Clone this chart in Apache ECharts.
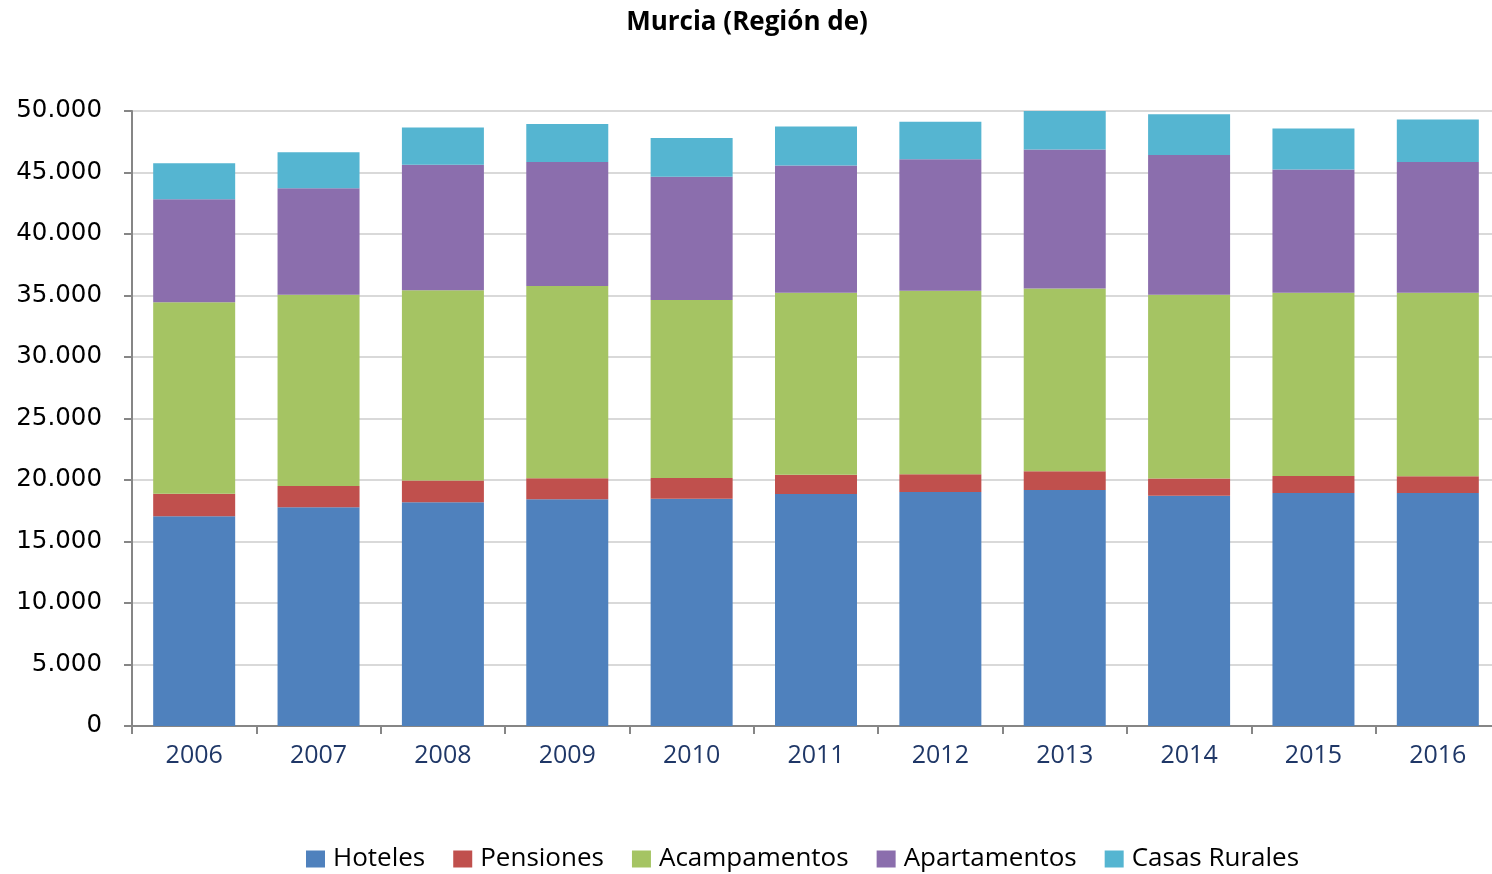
<!DOCTYPE html>
<html>
<head>
<meta charset="utf-8">
<script src="https://cdn.jsdelivr.net/npm/echarts@6/dist/echarts.min.js"></script>
<style>
html,body{margin:0;padding:0;background:#fff;overflow:hidden;}
#chart{width:1502px;height:874px;}
</style>
</head>
<body>
<div id="chart"></div>
<script>
const years = ['2006','2007','2008','2009','2010','2011','2012','2013','2014','2015','2016'];
const hoteles      = [17050, 17780, 18190, 18430, 18480, 18860, 19020, 19190, 18720, 18940, 18940];
const pensiones    = [ 1840,  1730,  1760,  1710,  1680,  1570,  1440,  1520,  1410,  1380,  1360];
const acampamentos = [15560, 15550, 15480, 15630, 14470, 14800, 14930, 14850, 14930, 14900, 14930];
const apartamentos = [ 8370,  8650, 10190, 10080, 10030, 10330, 10680, 11300, 11360, 10030, 10630];
const casasRurales = [ 2930,  2930,  3030,  3090,  3140,  3170,  3060,  3170,  3310,  3330,  3440];
const seriesNames = ['Hoteles','Pensiones','Acampamentos','Apartamentos','Casas Rurales'];
const seriesData = [hoteles, pensiones, acampamentos, apartamentos, casasRurales];
const colors = ['#4F81BD','#C0504D','#A5C463','#8B6EAD','#55B5D1'];

const chart = echarts.init(document.getElementById('chart'));
chart.setOption({
  animation: false,
  color: colors,
  title: {
    text: 'Murcia (Región de)',
    left: 742,
    textAlign: 'center',
    top: 5,
    textStyle: {fontFamily: 'Open Sans', fontWeight: 'bold', fontSize: 26, color: '#000'}
  },
  legend: {
    bottom: -3,
    left: 301,
    itemWidth: 19,
    itemHeight: 17,
    itemGap: 28,
    icon: 'rect',
    textStyle: {fontFamily: 'Open Sans', fontSize: 26, color: '#000', padding: [0, 0, 0, 3]},
    data: seriesNames
  },
  grid: {left: 132, top: 111, right: 2, height: 615, containLabel: false},
  xAxis: {
    type: 'category',
    data: years,
    axisLine: {lineStyle: {color: '#868686', width: 2}},
    axisTick: {show: true, length: 8, lineStyle: {color: '#868686', width: 2}},
    axisLabel: {fontFamily: 'Open Sans', fontSize: 25, color: '#1F3767', margin: 17}
  },
  yAxis: {
    type: 'value',
    min: 0, max: 50000, interval: 5000,
    axisLine: {show: true, lineStyle: {color: '#868686', width: 2}},
    axisTick: {show: true, length: 8, lineStyle: {color: '#868686', width: 2}},
    splitLine: {lineStyle: {color: '#D9D9D9', width: 2}},
    axisLabel: {
      fontFamily: 'DejaVu Sans', fontSize: 24.5, color: '#000', margin: 30,
      formatter: v => v.toString().replace(/\B(?=(\d{3})+(?!\d))/g, '.')
    }
  },
  series: seriesNames.map((n, i) => ({
    name: n,
    type: 'bar',
    stack: 'total',
    barWidth: 82,
    data: seriesData[i],
    itemStyle: {color: colors[i]}
  }))
});
</script>
</body>
</html>
